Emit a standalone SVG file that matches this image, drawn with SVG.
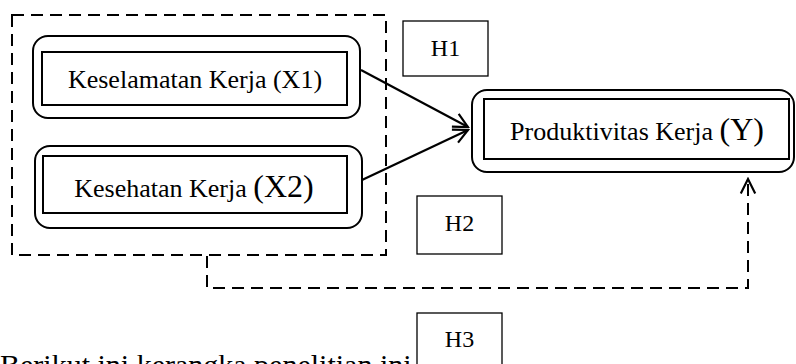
<svg xmlns="http://www.w3.org/2000/svg" width="796" height="364" viewBox="0 0 796 364">
<style>
text{font-family:"Liberation Serif","Times New Roman",serif;fill:#000}
.outer{fill:none;stroke:#000;stroke-width:2}
.inner{fill:none;stroke:#000;stroke-width:2}
.hbox{fill:#fff;stroke:#000;stroke-width:1.3}
.dash{fill:none;stroke:#000;stroke-width:2;stroke-dasharray:12 7}
.solid{fill:none;stroke:#000;stroke-width:2.2}
.lbl{font-size:26px}
.h{font-size:24px}
</style>
<defs>
<marker id="open" viewBox="0 0 20 20" refX="18" refY="10" markerWidth="18" markerHeight="18" markerUnits="userSpaceOnUse" orient="auto">
<path d="M2,2 L18,10 L2,18" fill="none" stroke="#000" stroke-width="2.4"/>
</marker>
</defs>
<g id="group-x">
<rect x="12" y="15" width="374" height="240" class="dash"/>
</g>
<g id="x1">
<rect x="33" y="36" width="327" height="82" rx="15" class="outer"/>
<rect x="42" y="52" width="305" height="53" class="inner"/>
<text x="195" y="88" text-anchor="middle" class="lbl">Keselamatan Kerja (X1)</text>
</g>
<g id="x2">
<rect x="35" y="146" width="327" height="82" rx="15" class="outer"/>
<rect x="43" y="156" width="304" height="57" class="inner"/>
<text x="194" y="197" text-anchor="middle" class="lbl">Kesehatan Kerja <tspan font-size="32">(X2)</tspan></text>
</g>
<g id="y">
<rect x="472" y="90" width="322" height="82" rx="15" class="outer"/>
<rect x="484" y="99" width="305" height="60" class="inner"/>
<text x="637" y="140" text-anchor="middle" class="lbl">Produktivitas Kerja <tspan font-size="32">(Y)</tspan></text>
</g>
<g id="h1">
<rect x="403" y="21" width="85" height="55" class="hbox"/>
<text x="445.5" y="56" text-anchor="middle" class="h">H1</text>
</g>
<g id="h2">
<rect x="417" y="196" width="85" height="58" class="hbox"/>
<text x="459.5" y="231" text-anchor="middle" class="h">H2</text>
</g>
<g id="h3">
<rect x="417" y="313" width="85" height="60" class="hbox"/>
<text x="459.5" y="347" text-anchor="middle" class="h">H3</text>
</g>
<g id="connectors">
<line x1="361" y1="70" x2="468" y2="127" class="solid" marker-end="url(#open)"/>
<line x1="362" y1="180" x2="468" y2="130" class="solid" marker-end="url(#open)"/>
<path d="M207,256 L207,288 L748,288 L748,179" class="dash" marker-end="url(#open)"/>
</g>
<g id="caption">
<text x="0" y="375" font-size="30px">Berikut ini kerangka penelitian ini</text>
</g>
</svg>
